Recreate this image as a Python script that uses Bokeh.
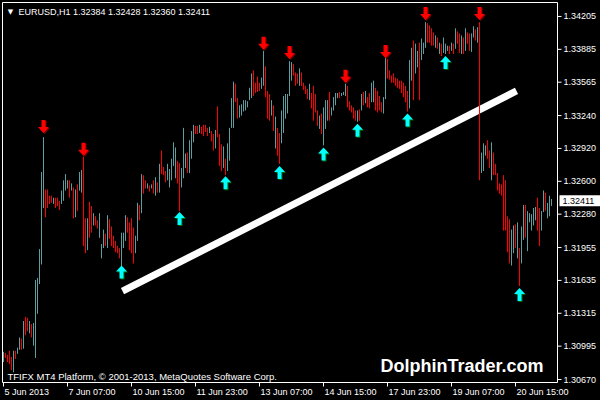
from bokeh.plotting import figure
from bokeh.models import Range1d, Label, GlobalInlineStyleSheet
from bokeh.core.properties import value
from bokeh.embed import file_html
from bokeh.resources import INLINE

# ---------------- data (EURUSD H1) ----------------
symbol = "EURUSD,H1"
last_open, last_high, last_low, last_close = 1.32384, 1.32428, 1.32360, 1.32411

highs = [
    1.3094, 1.3093, 1.3091, 1.3095, 1.3089, 1.3095, 1.3095, 1.3098, 1.3108, 1.3107,
    1.3124, 1.3128, 1.3127, 1.3124, 1.3121, 1.3122, 1.3164, 1.3166, 1.3194, 1.3269,
    1.3303, 1.3252, 1.3252, 1.3246, 1.3246, 1.3244, 1.3244, 1.3244, 1.3241, 1.3251,
    1.3261, 1.3267, 1.3261, 1.3261, 1.3258, 1.3254, 1.3252, 1.3257, 1.3269, 1.3271,
    1.3284, 1.3224, 1.3224, 1.3240, 1.3236, 1.3229, 1.3226, 1.3222, 1.3229, 1.3199,
    1.3213, 1.3209, 1.3227, 1.3223, 1.3216, 1.3207, 1.3202, 1.3197, 1.3195, 1.3210,
    1.3210, 1.3227, 1.3225, 1.3220, 1.3224, 1.3215, 1.3207, 1.3239, 1.3237, 1.3267,
    1.3266, 1.3261, 1.3258, 1.3256, 1.3257, 1.3261, 1.3264, 1.3259, 1.3277, 1.3290,
    1.3274, 1.3270, 1.3277, 1.3272, 1.3282, 1.3298, 1.3293, 1.3280, 1.3278, 1.3273,
    1.3312, 1.3287, 1.3288, 1.3300, 1.3309, 1.3315, 1.3314, 1.3314, 1.3315, 1.3313,
    1.3315, 1.3315, 1.3312, 1.3313, 1.3309, 1.3306, 1.3310, 1.3333, 1.3306, 1.3296,
    1.3294, 1.3282, 1.3297, 1.3312, 1.3341, 1.3357, 1.3355, 1.3341, 1.3334, 1.3335,
    1.3339, 1.3339, 1.3338, 1.3351, 1.3365, 1.3368, 1.3356, 1.3362, 1.3356, 1.3361,
    1.3387, 1.3372, 1.3348, 1.3345, 1.3339, 1.3334, 1.3323, 1.3312, 1.3307, 1.3329,
    1.3343, 1.3345, 1.3345, 1.3377, 1.3376, 1.3374, 1.3366, 1.3365, 1.3370, 1.3366,
    1.3356, 1.3353, 1.3350, 1.3355, 1.3346, 1.3353, 1.3345, 1.3329, 1.3324, 1.3326,
    1.3332, 1.3339, 1.3339, 1.3347, 1.3332, 1.3342, 1.3346, 1.3346, 1.3347, 1.3346,
    1.3347, 1.3355, 1.3353, 1.3338, 1.3334, 1.3332, 1.3329, 1.3329, 1.3330, 1.3345,
    1.3347, 1.3348, 1.3342, 1.3346, 1.3356, 1.3358, 1.3351, 1.3348, 1.3343, 1.3337,
    1.3342, 1.3380, 1.3379, 1.3368, 1.3363, 1.3365, 1.3361, 1.3360, 1.3358, 1.3358,
    1.3356, 1.3353, 1.3348, 1.3378, 1.3390, 1.3397, 1.3394, 1.3387, 1.3395, 1.3399,
    1.3395, 1.3415, 1.3414, 1.3412, 1.3409, 1.3405, 1.3402, 1.3400, 1.3395, 1.3394,
    1.3400, 1.3394, 1.3392, 1.3392, 1.3395, 1.3394, 1.3409, 1.3406, 1.3404, 1.3402,
    1.3400, 1.3409, 1.3405, 1.3404, 1.3404, 1.3411, 1.3408, 1.3410, 1.3415, 1.3288,
    1.3297, 1.3295, 1.3300, 1.3290, 1.3298, 1.3288, 1.3277, 1.3268, 1.3258, 1.3257,
    1.3266, 1.3261, 1.3226, 1.3223, 1.3213, 1.3217, 1.3218, 1.3220, 1.3195, 1.3216,
    1.3237, 1.3237, 1.3231, 1.3229, 1.3228, 1.3234, 1.3235, 1.3244, 1.3234, 1.3231,
    1.3251, 1.3249, 1.3239, 1.3246, 1.32428,
]

lows = [
    1.3084, 1.3088, 1.3084, 1.3082, 1.3076, 1.3074, 1.3087, 1.3092, 1.3096, 1.3096,
    1.3097, 1.3110, 1.3114, 1.3112, 1.3108, 1.3100, 1.3088, 1.3131, 1.3160, 1.3179,
    1.3234, 1.3225, 1.3234, 1.3238, 1.3239, 1.3238, 1.3234, 1.3236, 1.3232, 1.3238,
    1.3241, 1.3251, 1.3253, 1.3244, 1.3251, 1.3224, 1.3225, 1.3231, 1.3251, 1.3249,
    1.3197, 1.3190, 1.3193, 1.3205, 1.3210, 1.3217, 1.3217, 1.3214, 1.3205, 1.3185,
    1.3195, 1.3197, 1.3195, 1.3204, 1.3197, 1.3195, 1.3191, 1.3190, 1.3185, 1.3176,
    1.3195, 1.3202, 1.3210, 1.3193, 1.3190, 1.3180, 1.3190, 1.3202, 1.3222, 1.3229,
    1.3248, 1.3253, 1.3253, 1.3250, 1.3253, 1.3248, 1.3246, 1.3249, 1.3249, 1.3267,
    1.3266, 1.3259, 1.3261, 1.3254, 1.3261, 1.3275, 1.3263, 1.3258, 1.3231, 1.3254,
    1.3263, 1.3273, 1.3268, 1.3268, 1.3282, 1.3298, 1.3306, 1.3306, 1.3307, 1.3306,
    1.3304, 1.3308, 1.3304, 1.3307, 1.3299, 1.3290, 1.3292, 1.3303, 1.3275, 1.3270,
    1.3273, 1.3266, 1.3270, 1.3280, 1.3312, 1.3312, 1.3337, 1.3321, 1.3322, 1.3324,
    1.3328, 1.3329, 1.3332, 1.3339, 1.3341, 1.3343, 1.3346, 1.3347, 1.3348, 1.3350,
    1.3353, 1.3342, 1.3321, 1.3319, 1.3324, 1.3309, 1.3292, 1.3285, 1.3277, 1.3297,
    1.3307, 1.3321, 1.3326, 1.3343, 1.3358, 1.3363, 1.3353, 1.3355, 1.3353, 1.3353,
    1.3349, 1.3345, 1.3340, 1.3339, 1.3331, 1.3319, 1.3327, 1.3314, 1.3311, 1.3306,
    1.3295, 1.3311, 1.3319, 1.3319, 1.3324, 1.3329, 1.3334, 1.3341, 1.3341, 1.3343,
    1.3344, 1.3343, 1.3332, 1.3329, 1.3327, 1.3321, 1.3319, 1.3318, 1.3319, 1.3329,
    1.3334, 1.3336, 1.3332, 1.3331, 1.3337, 1.3337, 1.3329, 1.3327, 1.3329, 1.3327,
    1.3326, 1.3340, 1.3360, 1.3359, 1.3356, 1.3356, 1.3353, 1.3351, 1.3350, 1.3346,
    1.3342, 1.3337, 1.3328, 1.3331, 1.3358, 1.3339, 1.3365, 1.3371, 1.3339, 1.3378,
    1.3384, 1.3390, 1.3395, 1.3395, 1.3392, 1.3392, 1.3390, 1.3389, 1.3384, 1.3382,
    1.3385, 1.3384, 1.3387, 1.3384, 1.3387, 1.3384, 1.3389, 1.3394, 1.3385, 1.3384,
    1.3384, 1.3387, 1.3394, 1.3387, 1.3386, 1.3400, 1.3397, 1.3395, 1.3261, 1.3268,
    1.3270, 1.3285, 1.3282, 1.3273, 1.3261, 1.3266, 1.3266, 1.3251, 1.3248, 1.3246,
    1.3212, 1.3212, 1.3191, 1.3180, 1.3178, 1.3190, 1.3195, 1.3185, 1.3158, 1.3180,
    1.3203, 1.3205, 1.3192, 1.3220, 1.3212, 1.3217, 1.3222, 1.3212, 1.3197, 1.3212,
    1.3230, 1.3231, 1.3224, 1.3226, 1.32360,
]

# u = bullish bar, d = bearish bar
directions = list(
    "udddduduud" "udduduuuuu" "uddddudddu" "uuudududuu" "dduddudduu"
    "ududdddddu" "uudddduudu" "ddudududud" "dduuuuuddu" "uuduuuddud"
    "dddudduddd" "uduuuudduu" "uuuuuddddu" "udddududdu" "uuuuudddud"
    "ddduddddud" "uuuduuuudu" "uudddddudu" "dudduudddd" "uudddddddd"
    "ddduuduudu" "uuddddudud" "uuudududdu" "dudduududu" "uudduddddd"
    "dddduududu" "uduuuuuddu" "uduuu"
)

# arrow indicator signals: bar index and arrow tip price
sell_idx = [20, 40, 130, 143, 171, 191, 211, 238]
sell_price = [1.3307, 1.3285, 1.3388, 1.3379, 1.3356, 1.3380, 1.3417, 1.3417]
buy_idx = [59, 88, 111, 138, 160, 177, 202, 221, 258]
buy_price = [1.3178, 1.3230, 1.3265, 1.3275, 1.3293, 1.3316, 1.3326, 1.3382, 1.3156]

# hand-drawn trend line (bar index, price)
trend_x = [59.5, 256.5]
trend_y = [1.3153, 1.3348]

# price-scale labels and time-scale labels
y_ticks = [1.34205, 1.33885, 1.33565, 1.33240, 1.32920, 1.32600,
           1.32280, 1.31955, 1.31635, 1.31315, 1.30995, 1.30670]
x_tick_idx = [0, 32, 64, 96, 128, 160, 192, 224, 256]
x_tick_labels = ["5 Jun 2013", "7 Jun 07:00", "10 Jun 15:00", "11 Jun 23:00",
                 "13 Jun 07:00", "14 Jun 15:00", "17 Jun 23:00", "19 Jun 07:00",
                 "20 Jun 15:00"]

# ---------------- layout (MT4-style: chart window + price / time scales) ----------------
W, H = 600, 400
PX_PER_BAR = 2.0
AREA_L, AREA_T, AREA_R, AREA_B = 2, 2, 557, 382        # chart window inside the canvas (px)
PRICE_BOTTOM, PRICE_TOP = 1.30641, 1.34341              # prices at AREA_B / AREA_T
ppy = (PRICE_TOP - PRICE_BOTTOM) / (AREA_B - AREA_T)    # price per pixel
ppx = 1.0 / PX_PER_BAR                                  # bars per pixel
XA = -1.5                                               # bar value at canvas x = 0
XB = XA + W * ppx
YB = PRICE_TOP + AREA_T * ppy
YA = YB - H * ppy
area_left = XA + AREA_L * ppx
area_right = XA + AREA_R * ppx

UP = "#5f9ea0"
DOWN = "#ff0000"
FONT = "Liberation Sans"

p = figure(width=W, height=H, x_range=Range1d(XA, XB), y_range=Range1d(YA, YB),
           output_backend="svg", toolbar_location=None,
           background_fill_color="black", border_fill_color="black",
           outline_line_color=None, min_border=0)
p.axis.visible = False
p.grid.visible = False
p.stylesheets = [GlobalInlineStyleSheet(css="html,body{margin:0;padding:0;background:#000;overflow:hidden}")]

n = len(highs)
xs = list(range(n))
colors = [UP if d == "u" else DOWN for d in directions]

# trend line (behind bars)
p.line(trend_x, trend_y, line_color="white", line_width=7, line_cap="butt")

# bars
p.segment(x0=xs, y0=lows, x1=xs, y1=highs, line_color=colors, line_width=1)

# arrows
down_shape = [(0, 0), (5.5, 6), (2, 6), (2, 13), (-2, 13), (-2, 6), (-5.5, 6)]
up_shape = [(dx, -dy) for dx, dy in down_shape]


def arrow_polys(idx, prices, shape, ox=0.0, oy=0.0):
    pxs, pys = [], []
    for i, pr in zip(idx, prices):
        pxs.append([i + (dx + ox) * ppx for dx, dy in shape])
        pys.append([pr + (dy + oy) * ppy for dx, dy in shape])
    return pxs, pys


sx, sy = arrow_polys(sell_idx, sell_price, down_shape, 1, -1)
p.patches(sx, sy, fill_color="#7a0000", line_color=None)
sx, sy = arrow_polys(sell_idx, sell_price, down_shape)
p.patches(sx, sy, fill_color="#ff0000", line_color=None)

bx, by = arrow_polys(buy_idx, buy_price, up_shape, 1, -1)
p.patches(bx, by, fill_color="#006400", line_color=None)
bx, by = arrow_polys(buy_idx, buy_price, up_shape)
p.patches(bx, by, fill_color="#00ffff", line_color=None)

# chart window border
p.quad(left=[area_left], right=[area_right], bottom=[PRICE_BOTTOM], top=[PRICE_TOP],
       fill_color=None, line_color="white", line_width=1)

# price scale (right)
p.segment(x0=[area_right] * len(y_ticks), x1=[area_right + 4 * ppx] * len(y_ticks),
          y0=y_ticks, y1=y_ticks, line_color="white", line_width=1)
p.text(x=[area_right + 6 * ppx] * len(y_ticks), y=y_ticks,
       text=[f"{v:.5f}" for v in y_ticks], text_font=value(FONT),
       text_font_size=value("9px"), text_color="white",
       text_align="left", text_baseline="middle")

# current price marker
p.quad(left=[area_right + 2 * ppx], right=[XB], bottom=[last_close - 5.5 * ppy],
       top=[last_close + 5.5 * ppy], fill_color="white", line_color=None)
p.text(x=[area_right + 5 * ppx], y=[last_close], text=[f"{last_close:.5f}"],
       text_font=value(FONT), text_font_size=value("9px"), text_color="black",
       text_align="left", text_baseline="middle")

# time scale (bottom)
p.segment(x0=x_tick_idx, x1=x_tick_idx, y0=[PRICE_BOTTOM] * len(x_tick_idx),
          y1=[PRICE_BOTTOM - 4 * ppy] * len(x_tick_idx), line_color="white", line_width=1)
p.text(x=[i + 0.5 for i in x_tick_idx], y=[PRICE_BOTTOM - 9 * ppy] * len(x_tick_idx),
       text=x_tick_labels, text_font=value(FONT), text_font_size=value("9px"),
       text_color="white", text_align="left", text_baseline="middle")

# texts
header = f"{symbol}  {last_open:.5f} {last_high:.5f} {last_low:.5f} {last_close:.5f}"
p.add_layout(Label(x=10, y=H - 11, x_units="screen", y_units="screen", text="\u25bc",
                   text_font="DejaVu Sans", text_font_size="7px", text_color="white",
                   text_align="center", text_baseline="middle"))
p.add_layout(Label(x=18, y=H - 11, x_units="screen", y_units="screen", text=header,
                   text_font=FONT, text_font_size="9px", text_color="white",
                   text_baseline="middle"))
p.add_layout(Label(x=7, y=H - 375.5, x_units="screen", y_units="screen",
                   text="TFIFX MT4 Platform, \u00a9 2001-2013, MetaQuotes Software Corp.",
                   text_font=FONT, text_font_size="9.5px", text_color="white",
                   text_baseline="middle"))
p.add_layout(Label(x=380, y=H - 365, x_units="screen", y_units="screen", text="DolphinTrader.com",
                   text_font=FONT, text_font_size="18px", text_font_style="bold",
                   text_color="white", text_baseline="middle"))

open("out.html", "w").write(file_html(p, INLINE))
